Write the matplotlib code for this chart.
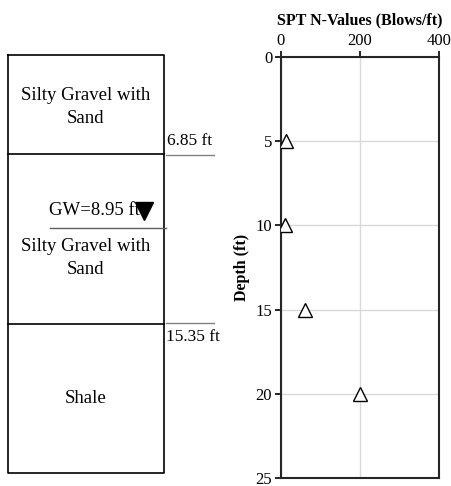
import numpy as np
import matplotlib
matplotlib.use("Agg")
import matplotlib.pyplot as plt

plt.rcParams['font.family'] = ['Liberation Serif', 'DejaVu Serif']

# SPT data
depth_ft = [5, 10, 15, 20]
n_values = [14, 12, 62, 200]

# soil profile (schematic column)
layer_names = ["Silty Gravel with\nSand", "Silty Gravel with\nSand", "Shale"]
layer_bottoms_ft = [6.85, 15.35]
gw_depth_ft = 8.95

x_ticks = [0, 200, 400]
y_ticks = [0, 5, 10, 15, 20, 25]

fig = plt.figure(figsize=(4.52, 4.86), dpi=100)

# ---- left: schematic soil column (not to scale) ----
col = fig.add_axes([0, 0, 1, 1])
col.set_xlim(0, 452)
col.set_ylim(486, 0)
col.axis('off')

box_l, box_r, box_t, box_b = 8, 164, 55, 473
bound_px = [154, 324]
col.plot([box_l, box_r, box_r, box_l, box_l], [box_t, box_t, box_b, box_b, box_t],
         color='black', lw=1.2)
for yb in bound_px:
    col.plot([box_l, box_r], [yb, yb], color='black', lw=1.2)

label_y = [107, 258, 398]
for name, yy in zip(layer_names, label_y):
    col.text((box_l + box_r) / 2, yy, name, ha='center', va='center',
             fontsize=13.5, linespacing=1.4)

# boundary depth labels
col.plot([166, 214], [155, 155], color='#808080', lw=1.0)
col.text(167, 145, f"{layer_bottoms_ft[0]} ft", ha='left', va='baseline', fontsize=12.5)
col.plot([166, 214], [323, 323], color='#808080', lw=1.0)
col.text(166, 341, f"{layer_bottoms_ft[1]} ft", ha='left', va='baseline', fontsize=12.5)

# groundwater
col.plot([50, 166], [228, 228], color='#606060', lw=1.0)
col.text(140, 210, f"GW={gw_depth_ft} ft", ha='right', va='center', fontsize=13.5)
col.plot([144], [211], marker='v', color='black', markersize=13, linestyle='none')

# ---- right: SPT N-values ----
ax = fig.add_axes([0.6206, 0.0164, 0.3506, 0.8663])
ax.plot(n_values, depth_ft, linestyle='none', marker='^', markersize=10,
        markerfacecolor='white', markeredgecolor='black', markeredgewidth=1.0, zorder=3)
ax.set_xlim(0, 400)
ax.set_ylim(25, 0)
ax.set_xticks(x_ticks)
ax.set_yticks(y_ticks)
ax.xaxis.tick_top()
ax.xaxis.set_label_position('top')
ax.set_xlabel("SPT N-Values (Blows/ft)", fontsize=11.5, fontweight='bold', labelpad=6)
ax.set_ylabel("Depth (ft)", fontsize=11.5, fontweight='bold', labelpad=4)
ax.grid(True, color='#d9d9d9', lw=1.0)
ax.set_axisbelow(True)
ax.tick_params(axis='both', labelsize=12, length=4, width=1.2, direction='out', pad=2)
for s in ax.spines.values():
    s.set_linewidth(1.5)
    s.set_color('#262626')

fig.savefig('out.png', dpi=100)
